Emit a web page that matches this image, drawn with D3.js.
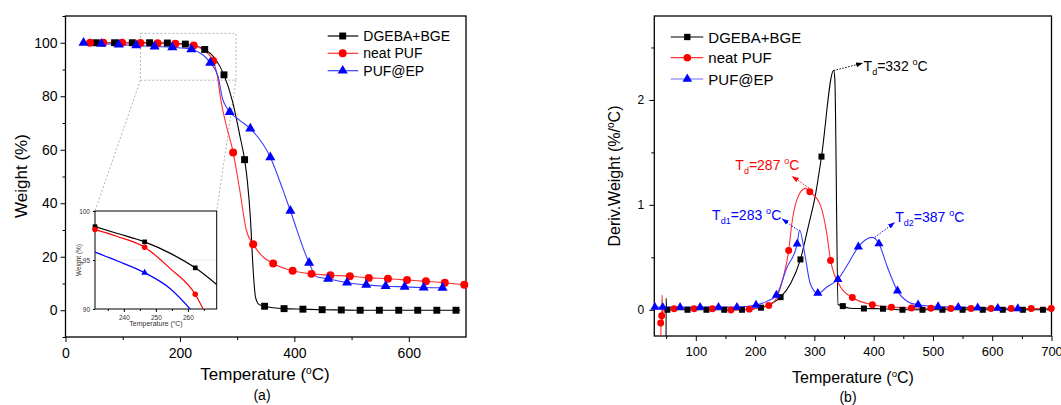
<!DOCTYPE html>
<html><head><meta charset="utf-8">
<script src="https://cdn.jsdelivr.net/npm/d3@7"></script>
<style>
html,body{margin:0;padding:0;background:#fff;}
svg{display:block;font-family:"Liberation Sans",Arial,sans-serif;}
</style></head>
<body><svg id="c" width="1061" height="405"></svg>
<script>
// ---------------- DATA ----------------
const seriesNames = ["DGEBA+BGE", "neat PUF", "PUF@EP"];
const tgaXTicks = [0, 200, 400, 600];
const tgaYTicks = [0, 20, 40, 60, 80, 100];
const dtgXTicks = [100, 200, 300, 400, 500, 600, 700];
const dtgYTicks = [0, 1, 2];
const insetXTicks = [240, 250, 260];
const insetYTicks = [90, 95, 100];

// TGA (a): markers
const tgaDgebaMarks = [[53.7,100],[85.8,100],[116.8,100],[147,100],[178,99.9],[209.5,99.5],[243.3,97.5],[277,88],[313,56.3],[348,1.5],[382,0.6],[415,0.4],[448.6,0.2],[482,0.1],[515,0],[548.6,0],[582.4,0],[615.6,0],[649,0],[682.5,0]];
const tgaPufMarks = [[43,100],[66,100],[99,100],[131,99.9],[161,99.8],[192,99.6],[224,99.0],[258,93.2],[293,59],[328,24.7],[363,17.5],[397,14.75],[430,13.6],[463,13.1],[497,12.7],[530,12.1],[563.5,11.8],[597,11.3],[630,10.8],[663,10.3],[697,9.5]];
const tgaEpMarks = [[31.5,100],[62.5,99.6],[93,99.3],[123.7,99.0],[155.7,98.6],[186.7,98.3],[220,97.5],[253,92.5],[287,74.1],[323,67.9],[358,57.2],[393,37.2],[425.8,17.7],[459,11.75],[492,10.3],[525.6,9.5],[559.5,9.0],[592.7,8.75],[626,8.5],[659,8.4]];
// TGA (a): curves
const tgaDgebaLine = [[32,100],[53.7,100],[85.8,100],[116.8,100],[147,100],[178,99.9],[209.5,99.5],[230,98.7],[243.3,97.5],[260,94.5],[277,88],[292,78],[305,65],[313,56.3],[318,48],[323,35],[328,15],[332,5],[338,2.2],[348,1.5],[382,0.6],[415,0.4],[448.6,0.2],[482,0.1],[515,0],[600,0],[690,0]];
const tgaPufLine = [[35,100],[66,100],[99,100],[131,99.9],[161,99.8],[192,99.6],[224,99.0],[240,97.5],[258,93.2],[265,88],[272,78],[280,70],[293,59],[304.5,45],[316,30],[328,24.7],[345,20],[363,17.5],[397,14.75],[430,13.6],[463,13.1],[497,12.7],[530,12.1],[563.5,11.8],[597,11.3],[630,10.8],[663,10.3],[700,9.4]];
const tgaEpLine = [[30,100],[62.5,99.6],[93,99.3],[123.7,99.0],[155.7,98.6],[186.7,98.3],[220,97.5],[240,95.5],[253,92.5],[266.5,87.5],[275,78.7],[281,76],[287,74.1],[304.5,71],[323,67.9],[358,57.2],[380,45],[393,37.2],[425.8,17.7],[439,12.5],[459,11.75],[492,10.3],[525.6,9.5],[559.5,9.0],[592.7,8.75],[626,8.5],[663,8.4]];

// Inset (zoom 231-269 °C)
const insetDgebaLine = [[231,98.4],[238,97.7],[246.5,96.85],[255,95.6],[262.3,94.2],[269,92.5]];
const insetPufLine = [[231,98.1],[238,97.4],[246.5,96.3],[254.4,94.15],[262.3,91.5],[265.5,89.5]];
const insetEpLine = [[231,95.8],[238,94.9],[246.5,93.7],[254.4,92.1],[260.7,90],[262,89.5]];
const insetDgebaMarks = [[231,98.4],[246.5,96.85],[262.3,94.2]];
const insetPufMarks = [[231,98.1],[246.5,96.3],[262.3,91.5]];
const insetEpMarks = [[246.5,93.7]];

// DTG (b): markers
const dtgDgebaMarks = [[52,0],[86,0],[118,0],[148,0],[178,0],[210,0.02],[243,0.12],[276.5,0.48],[312,1.46],[348,0.035],[383.6,0.012],[415.8,0.01],[448.6,0],[482.4,0],[516,0],[550,0],[584,0],[617.8,0],[651.7,0],[685.5,0]];
const dtgPufMarks = [[40.8,-0.127],[42.5,-0.057],[63.3,0.01],[97.2,0.01],[128,0.01],[159.3,-0.003],[190.3,0.006],[223,0.04],[256.7,0.565],[292.3,1.125],[327.3,0.47],[364,0.117],[397.8,0.048],[430,0.025],[463.8,0.016],[496.5,0.014],[530.3,0.013],[564.2,0.012],[598,0.012],[632,0.012],[665.8,0.012],[699.6,0.012]];
const dtgEpMarks = [[31,0.025],[44.2,0.025],[73.5,0.025],[107.3,0.025],[138.3,0.025],[169.4,0.025],[201.6,0.045],[236,0.14],[271,0.627],[305.8,0.158],[339.7,0.29],[374.2,0.6],[409,0.63],[440.2,0.18],[475,0.048],[508.8,0.03],[542.7,0.025],[575.5,0.02],[609.4,0.015],[643.2,0.012]];
// DTG (b): curves
const dtgDgebaLine = [[49.8,-0.3],[50,0.11],[50.6,0.0],[52,0],[86,0],[118,0],[148,0],[178,0],[210,0.02],[225,0.05],[243,0.12],[260,0.25],[276.5,0.48],[290,0.8],[302,1.1],[312,1.46],[332.5,2.28],[334.5,2.2],[340,0.05],[348,0.035],[360,0.015],[383.6,0.012],[415.8,0.01],[448.6,0],[700,0]];
const dtgPufLine = [[41,-0.3],[41.5,-0.13],[42.5,-0.057],[43.3,0.14],[43.8,-0.1],[45,0],[63.3,0.01],[97.2,0.01],[128,0.01],[159.3,-0.003],[190.3,0.006],[223,0.04],[235,0.1],[248,0.32],[256.7,0.565],[262,0.82],[270.6,1.05],[284.8,1.157],[292.3,1.125],[310,1.0],[321.7,0.7],[327.3,0.47],[344,0.22],[364,0.117],[397.8,0.048],[430,0.025],[463.8,0.016],[496.5,0.014],[564.2,0.012],[700,0.012]];
const dtgEpLine = [[30,0.025],[73.5,0.025],[107.3,0.025],[138.3,0.025],[169.4,0.025],[201.6,0.045],[220,0.08],[236,0.14],[253.5,0.4],[271,0.627],[275,0.76],[284.5,0.51],[293,0.25],[305.8,0.155],[321.7,0.22],[339.7,0.29],[355,0.42],[374.2,0.6],[390,0.68],[398,0.69],[409,0.63],[423,0.41],[440.2,0.18],[460,0.07],[475,0.048],[508.8,0.03],[542.7,0.025],[575.5,0.02],[609.4,0.015],[645,0.012]];

// Annotations (DTG): [from point], [to point], label pos, label parts
const dtgPeakLabels = [
  {from:[332.5,2.28], to:[381,2.35], at:[383,2.275], main:"T", sub:"d", val:"=332 ", color:"#000"},
  {from:[291,1.16], to:[263,1.27], at:[166.7,1.33], main:"T", sub:"d", val:"=287 ", color:"#ff0000"},
  {from:[272,0.76], to:[246,0.865], at:[127.5,0.855], main:"T", sub:"d1", val:"=283 ", color:"#0000ff"},
  {from:[402,0.69], to:[435,0.83], at:[436.5,0.84], main:"T", sub:"d2", val:"=387 ", color:"#0000ff"}
];

// ---------------- DRAWING ----------------
const svg = d3.select("#c");
const colors = {k:"#000000", r:"#ff0000", b:"#0000ff"};
const lineColors = {k:"#000000", r:"#ff3030", b:"#3a3aff"};

function symbolPath(type, size){
  const t = type==="k"?d3.symbolSquare:type==="r"?d3.symbolCircle:d3.symbolTriangle;
  return d3.symbol().type(t).size(size)();
}
function titleWithDeg(g, x, y, size, pre, post){
  const t = g.append("text").attr("x",x).attr("y",y).attr("text-anchor","middle").attr("font-size",size).attr("fill","#000");
  t.append("tspan").text(pre);
  t.append("tspan").attr("font-size",size*0.6).attr("dy",-size*0.38).text("o");
  t.append("tspan").attr("dy",size*0.38).text(post);
  return t;
}

// ===== Panel (a) =====
const A = {x0:65.5, x1:466, y0:16, y1:337};
const ax = d3.scaleLinear().domain([0,700]).range([A.x0,A.x1]);
const ay = d3.scaleLinear().domain([-10,110]).range([A.y1,A.y0]);
const gA = svg.append("g");
svg.append("clipPath").attr("id","clipA").append("rect").attr("x",A.x0).attr("y",A.y0).attr("width",A.x1-A.x0).attr("height",A.y1-A.y0);

gA.append("g").attr("transform",`translate(0,${A.y1})`)
  .call(d3.axisBottom(ax).tickValues(tgaXTicks).tickSize(5).tickPadding(6).tickSizeOuter(0))
  .call(g=>{g.select(".domain").remove(); g.selectAll("text").attr("font-size",14).attr("font-family","Liberation Sans, Arial");});
gA.append("g").attr("transform",`translate(0,${A.y1})`)
  .call(d3.axisBottom(ax).tickValues([100,300,500]).tickSize(3).tickFormat("").tickSizeOuter(0))
  .call(g=>g.select(".domain").remove());
gA.append("g").attr("transform",`translate(${A.x0},0)`)
  .call(d3.axisLeft(ay).tickValues(tgaYTicks).tickSize(5).tickPadding(3).tickSizeOuter(0))
  .call(g=>{g.select(".domain").remove(); g.selectAll("text").attr("font-size",14).attr("font-family","Liberation Sans, Arial");});
gA.append("g").attr("transform",`translate(${A.x0},0)`)
  .call(d3.axisLeft(ay).tickValues([-10,10,30,50,70,90,110]).tickSize(3).tickFormat("").tickSizeOuter(0))
  .call(g=>g.select(".domain").remove());
gA.append("rect").attr("x",A.x0).attr("y",A.y0).attr("width",A.x1-A.x0).attr("height",A.y1-A.y0)
  .attr("fill","none").attr("stroke","#000").attr("stroke-width",1.3);

// zoom box + connector lines
const zb = {t0:131, t1:298, w0:86, w1:103.5};
const I = {x0:95, x1:216.7, y0:211, y1:309};
gA.append("rect").attr("x",ax(zb.t0)).attr("y",ay(zb.w1)).attr("width",ax(zb.t1)-ax(zb.t0)).attr("height",ay(zb.w0)-ay(zb.w1))
  .attr("fill","none").attr("stroke","#aaa").attr("stroke-width",0.9).attr("stroke-dasharray","2,2");
gA.append("line").attr("x1",ax(zb.t0)).attr("y1",ay(zb.w0)).attr("x2",I.x0).attr("y2",I.y0)
  .attr("stroke","#aaa").attr("stroke-width",0.9).attr("stroke-dasharray","2,2");
gA.append("line").attr("x1",ax(zb.t1)).attr("y1",ay(zb.w0)).attr("x2",I.x1).attr("y2",I.y0)
  .attr("stroke","#aaa").attr("stroke-width",0.9).attr("stroke-dasharray","2,2");

const lineA = d3.line().x(d=>ax(d[0])).y(d=>ay(d[1])).curve(d3.curveMonotoneX);
const tgaSeries = [
  {key:"k", line:tgaDgebaLine, marks:tgaDgebaMarks, size:48},
  {key:"r", line:tgaPufLine, marks:tgaPufMarks, size:50},
  {key:"b", line:tgaEpLine, marks:tgaEpMarks, size:44}
];
tgaSeries.forEach(s=>{
  gA.append("path").datum(s.line).attr("d",lineA).attr("fill","none").attr("stroke",lineColors[s.key]).attr("stroke-width",1.1).attr("clip-path","url(#clipA)");
});
tgaSeries.forEach(s=>{
  gA.selectAll(null).data(s.marks).join("path")
    .attr("d",symbolPath(s.key,s.size)).attr("transform",d=>`translate(${ax(d[0])},${ay(d[1])})`).attr("fill",colors[s.key]);
});

// legend (a)
seriesNames.forEach((n,i)=>{
  const k = ["k","r","b"][i];
  const y = [36,53.3,70.7][i];
  gA.append("line").attr("x1",327.7).attr("x2",358.3).attr("y1",y).attr("y2",y).attr("stroke",lineColors[k]).attr("stroke-width",1.2);
  gA.append("path").attr("d",symbolPath(k,[48,50,44][i])).attr("transform",`translate(342.7,${y})`).attr("fill",colors[k]);
  gA.append("text").attr("x",363.3).attr("y",y+5).attr("font-size",14).text(n);
});

// titles (a)
titleWithDeg(gA, 265, 380, 17, "Temperature (", "C)");
gA.append("text").attr("transform","translate(27,176) rotate(-90)").attr("text-anchor","middle").attr("font-size",17).text("Weight (%)");
gA.append("text").attr("x",262).attr("y",400).attr("text-anchor","middle").attr("font-size",14).text("(a)");

// inset
const ix = d3.scaleLinear().domain([231,269]).range([I.x0,I.x1]);
const iy = d3.scaleLinear().domain([90,100]).range([I.y1,I.y0]);
const gI = svg.append("g");
svg.append("clipPath").attr("id","clipI").append("rect").attr("x",I.x0).attr("y",I.y0).attr("width",I.x1-I.x0).attr("height",I.y1-I.y0);
gI.append("rect").attr("x",I.x0).attr("y",I.y0).attr("width",I.x1-I.x0).attr("height",I.y1-I.y0).attr("fill","#fff");
gI.append("line").attr("x1",I.x0).attr("x2",I.x1).attr("y1",iy(95)).attr("y2",iy(95)).attr("stroke","#ddd").attr("stroke-width",0.8).attr("stroke-dasharray","2,1");
gI.append("g").attr("transform",`translate(0,${I.y1})`)
  .call(d3.axisBottom(ix).tickValues(insetXTicks).tickSize(3).tickPadding(3).tickSizeOuter(0))
  .call(g=>{g.select(".domain").remove(); g.selectAll("text").attr("font-size",6.5).attr("font-family","Liberation Sans, Arial").attr("fill","#333");});
gI.append("g").attr("transform",`translate(0,${I.y1})`)
  .call(d3.axisBottom(ix).tickValues([235,245,255,265]).tickSize(2).tickFormat("").tickSizeOuter(0))
  .call(g=>g.select(".domain").remove());
gI.append("g").attr("transform",`translate(${I.x0},0)`)
  .call(d3.axisLeft(iy).tickValues(insetYTicks).tickSize(2).tickPadding(3).tickSizeOuter(0))
  .call(g=>{g.select(".domain").remove(); g.selectAll("text").attr("font-size",6.5).attr("font-family","Liberation Sans, Arial").attr("fill","#333");});
gI.append("rect").attr("x",I.x0).attr("y",I.y0).attr("width",I.x1-I.x0).attr("height",I.y1-I.y0).attr("fill","none").attr("stroke","#000").attr("stroke-width",1);
const lineI = d3.line().x(d=>ix(d[0])).y(d=>iy(d[1])).curve(d3.curveMonotoneX);
const insetSeries = [
  {key:"k", line:insetDgebaLine, marks:insetDgebaMarks, size:22},
  {key:"r", line:insetPufLine, marks:insetPufMarks, size:24},
  {key:"b", line:insetEpLine, marks:insetEpMarks, size:20}
];
insetSeries.forEach(s=>{
  gI.append("path").datum(s.line).attr("d",lineI).attr("fill","none").attr("stroke",colors[s.key]).attr("stroke-width",1.2).attr("clip-path","url(#clipI)");
  gI.selectAll(null).data(s.marks).join("path").attr("d",symbolPath(s.key,s.size))
    .attr("transform",d=>`translate(${ix(d[0])},${iy(d[1])})`).attr("fill",colors[s.key]);
});
titleWithDeg(gI, 156, 326, 7, "Temperature (", "C)").attr("fill","#333");
gI.append("text").attr("transform","translate(81,260) rotate(-90)").attr("text-anchor","middle").attr("font-size",6.5).attr("fill","#333").text("Weight (%)");

// ===== Panel (b) =====
const B = {x0:654.3, x1:1051.5, y0:16, y1:336};
const bx = d3.scaleLinear().domain([30,700]).range([B.x0,B.x1]);
const by = d3.scaleLinear().domain([-0.25,2.8]).range([B.y1,B.y0]);
const gB = svg.append("g");
svg.append("clipPath").attr("id","clipB").append("rect").attr("x",B.x0).attr("y",B.y0).attr("width",B.x1-B.x0).attr("height",B.y1-B.y0);

gB.append("g").attr("transform",`translate(0,${B.y1})`)
  .call(d3.axisBottom(bx).tickValues(dtgXTicks).tickSize(5).tickPadding(6).tickSizeOuter(0))
  .call(g=>{g.select(".domain").remove(); g.selectAll("text").attr("font-size",13).attr("font-family","Liberation Sans, Arial");});
gB.append("g").attr("transform",`translate(0,${B.y1})`)
  .call(d3.axisBottom(bx).tickValues([50,150,250,350,450,550,650]).tickSize(3).tickFormat("").tickSizeOuter(0))
  .call(g=>g.select(".domain").remove());
gB.append("g").attr("transform",`translate(${B.x0},0)`)
  .call(d3.axisLeft(by).tickValues(dtgYTicks).tickFormat(d3.format("d")).tickSize(5).tickPadding(5).tickSizeOuter(0))
  .call(g=>{g.select(".domain").remove(); g.selectAll("text").attr("font-size",12).attr("font-family","Liberation Sans, Arial");});
gB.append("g").attr("transform",`translate(${B.x0},0)`)
  .call(d3.axisLeft(by).tickValues([0.5,1.5,2.5]).tickSize(3).tickFormat("").tickSizeOuter(0))
  .call(g=>g.select(".domain").remove());
gB.append("rect").attr("x",B.x0).attr("y",B.y0).attr("width",B.x1-B.x0).attr("height",B.y1-B.y0)
  .attr("fill","none").attr("stroke","#000").attr("stroke-width",1.3);

const lineB = d3.line().x(d=>bx(d[0])).y(d=>by(d[1])).curve(d3.curveMonotoneX);
const dtgSeries = [
  {key:"k", line:dtgDgebaLine, marks:dtgDgebaMarks, size:36},
  {key:"r", line:dtgPufLine, marks:dtgPufMarks, size:38},
  {key:"b", line:dtgEpLine, marks:dtgEpMarks, size:36}
];
dtgSeries.forEach(s=>{
  gB.append("path").datum(s.line).attr("d",lineB).attr("fill","none").attr("stroke",lineColors[s.key]).attr("stroke-width",1.1).attr("clip-path","url(#clipB)");
});
dtgSeries.forEach(s=>{
  gB.selectAll(null).data(s.marks).join("path").attr("d",symbolPath(s.key,s.size))
    .attr("transform",d=>`translate(${bx(d[0])},${by(d[1])})`).attr("fill",colors[s.key]);
});

// legend (b)
seriesNames.forEach((n,i)=>{
  const k = ["k","r","b"][i];
  const y = [37,57.7,79][i];
  gB.append("line").attr("x1",670.7).attr("x2",703.3).attr("y1",y).attr("y2",y).attr("stroke",i===2?"#6a6aff":lineColors[k]).attr("stroke-width",1.2);
  gB.append("path").attr("d",symbolPath(k,[40,44,40][i])).attr("transform",`translate(687.3,${y})`).attr("fill",colors[k]);
  gB.append("text").attr("x",708.3).attr("y",y+5.5).attr("font-size",15).text(n);
});

// annotations
const defs = svg.append("defs");
dtgPeakLabels.forEach((a,i)=>{
  defs.append("marker").attr("id","ah"+i).attr("viewBox","0 0 10 10").attr("refX",9).attr("refY",5)
    .attr("markerWidth",7).attr("markerHeight",7).attr("orient","auto")
    .append("path").attr("d","M0,1.5L10,5L0,8.5Z").attr("fill",a.color);
  gB.append("line").attr("x1",bx(a.from[0])).attr("y1",by(a.from[1])).attr("x2",bx(a.to[0])).attr("y2",by(a.to[1]))
    .attr("stroke",a.color).attr("stroke-width",1).attr("stroke-dasharray","1.5,1.5").attr("marker-end",`url(#ah${i})`);
  const t = gB.append("text").attr("x",bx(a.at[0])).attr("y",by(a.at[1])).attr("font-size",14).attr("fill",a.color);
  t.append("tspan").text(a.main);
  t.append("tspan").attr("font-size",9).attr("dy",4).text(a.sub);
  t.append("tspan").attr("dy",-4).text(a.val);
  t.append("tspan").attr("font-size",9).attr("dy",-6).text("o");
  t.append("tspan").attr("dy",6).text("C");
});

// titles (b)
titleWithDeg(gB, 853, 383, 16, "Temperature (", "C)");
const yt = gB.append("text").attr("transform","translate(620,176) rotate(-90)").attr("text-anchor","middle").attr("font-size",16);
yt.append("tspan").text("Deriv.Weight (%/");
yt.append("tspan").attr("font-size",10).attr("dy",-6).text("o");
yt.append("tspan").attr("dy",6).text("C)");
gB.append("text").attr("x",848).attr("y",402).attr("text-anchor","middle").attr("font-size",14).text("(b)");
</script></body></html>
